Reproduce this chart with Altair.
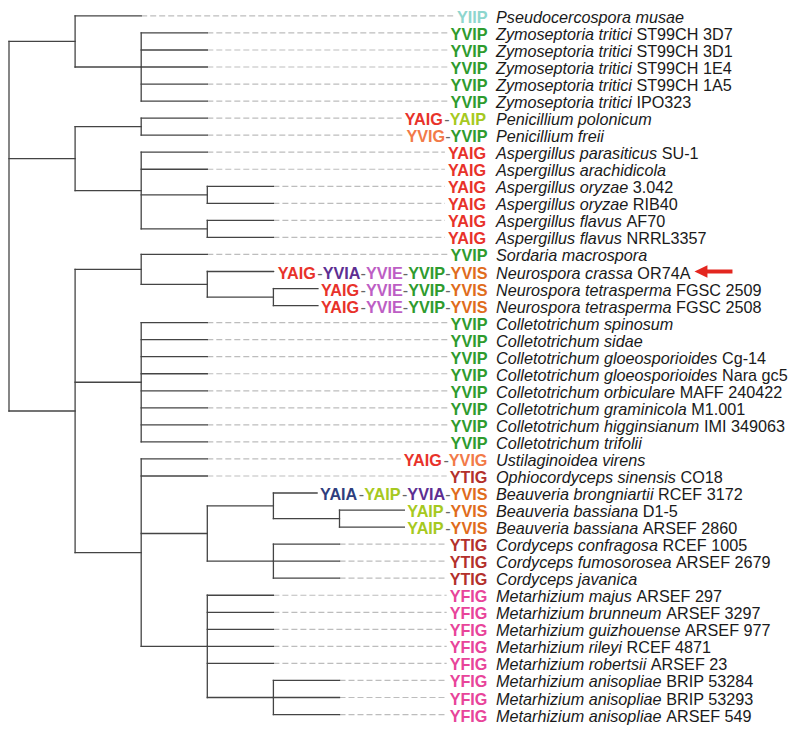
import altair as alt
import pandas as pd

# ---------------- data ----------------
# tree topology (leaf numbers = row order, top to bottom)
TREE = ("((0,(1,2,3,4,5)),((6,7),(8,9,(10,11),(12,13))),"
        "((14,(15,(16,17))),(18,19,20,21,22,23,24,25),"
        "(26,27,((28,(29,30)),(31,32,33)),(34,35,36,37,38,(39,40,41)))))")

SPECIES = [
    "Pseudocercospora musae", "Zymoseptoria tritici", "Zymoseptoria tritici",
    "Zymoseptoria tritici", "Zymoseptoria tritici", "Zymoseptoria tritici",
    "Penicillium polonicum", "Penicillium freii", "Aspergillus parasiticus",
    "Aspergillus arachidicola", "Aspergillus oryzae", "Aspergillus oryzae",
    "Aspergillus flavus", "Aspergillus flavus", "Sordaria macrospora",
    "Neurospora crassa", "Neurospora tetrasperma", "Neurospora tetrasperma",
    "Colletotrichum spinosum", "Colletotrichum sidae",
    "Colletotrichum gloeosporioides", "Colletotrichum gloeosporioides",
    "Colletotrichum orbiculare", "Colletotrichum graminicola",
    "Colletotrichum higginsianum", "Colletotrichum trifolii",
    "Ustilaginoidea virens", "Ophiocordyceps sinensis",
    "Beauveria brongniartii", "Beauveria bassiana", "Beauveria bassiana",
    "Cordyceps confragosa", "Cordyceps fumosorosea", "Cordyceps javanica",
    "Metarhizium majus", "Metarhizium brunneum", "Metarhizium guizhouense",
    "Metarhizium rileyi", "Metarhizium robertsii", "Metarhizium anisopliae",
    "Metarhizium anisopliae", "Metarhizium anisopliae",
]
STRAINS = [
    "", "ST99CH 3D7", "ST99CH 3D1", "ST99CH 1E4", "ST99CH 1A5", "IPO323",
    "", "", "SU-1", "", "3.042", "RIB40", "AF70", "NRRL3357", "",
    "OR74A", "FGSC 2509", "FGSC 2508",
    "", "", "Cg-14", "Nara gc5", "MAFF 240422", "M1.001", "IMI 349063", "",
    "", "CO18", "RCEF 3172", "D1-5", "ARSEF 2860",
    "RCEF 1005", "ARSEF 2679", "",
    "ARSEF 297", "ARSEF 3297", "ARSEF 977", "RCEF 4871", "ARSEF 23",
    "BRIP 53284", "BRIP 53293", "ARSEF 549",
]
MOTIFS = [
    "YIIP", "YVIP", "YVIP", "YVIP", "YVIP", "YVIP",
    "YAIG-YAIP", "YVIG-YVIP",
    "YAIG", "YAIG", "YAIG", "YAIG", "YAIG", "YAIG",
    "YVIP", "YAIG-YVIA-YVIE-YVIP-YVIS", "YAIG-YVIE-YVIP-YVIS", "YAIG-YVIE-YVIP-YVIS",
    "YVIP", "YVIP", "YVIP", "YVIP", "YVIP", "YVIP", "YVIP", "YVIP",
    "YAIG-YVIG", "YTIG", "YAIA-YAIP-YVIA-YVIS", "YAIP-YVIS", "YAIP-YVIS",
    "YTIG", "YTIG", "YTIG",
    "YFIG", "YFIG", "YFIG", "YFIG", "YFIG", "YFIG", "YFIG", "YFIG",
]
MOTIF_COLORS = {
    "YIIP": "#8ed6ce", "YVIP": "#2e9b2e", "YAIG": "#e8322a", "YAIP": "#a6c920",
    "YVIG": "#f27a48", "YVIA": "#5d2e92", "YVIE": "#bd5ec4", "YVIS": "#e06c1c",
    "YTIG": "#b3302b", "YAIA": "#2f3e7e", "YFIG": "#e8449a",
}
MARKED_LEAF = 15  # red arrow

# ---------------- layout settings ----------------
FONT = "Liberation Sans"
FS = 16.2
W, H = 781, 717
X0, PX = 9.0, 66.1        # image x of root, px per tree level
ROW0, ROWPX = 15.9, 17.04  # image y of first row, px per row
R_IMG, N_IMG = 487.5, 496.0  # motif right edge / name start (image px)
GAP = 3.0

REG = {c: w for c, w in zip("ABCDEFGHIJKLMNOPQRSTUVWXYZ",
       [667, 667, 722, 722, 667, 611, 778, 722, 278, 500, 667, 556, 833, 722,
        778, 667, 778, 722, 667, 611, 722, 667, 944, 667, 667, 611])}
REG.update({c: w for c, w in zip("abcdefghijklmnopqrstuvwxyz",
       [556, 556, 500, 556, 556, 278, 556, 556, 222, 222, 500, 222, 833, 556,
        556, 556, 556, 333, 500, 278, 556, 500, 722, 500, 500, 500])})
REG.update({d: 556 for d in "0123456789"})
REG.update({" ": 278, ".": 278, "-": 333})
BOLD = {"A": 722, "E": 667, "F": 611, "G": 778, "I": 278, "P": 667, "S": 667,
        "T": 611, "V": 667, "Y": 667, "-": 333}


def tw(s, table):
    return sum(table.get(c, 556) for c in s) * FS / 1000.0


def d_of(px_img):
    return (px_img - X0) / PX


def parse(s):
    pos = 0

    def node():
        nonlocal pos
        if s[pos] == "(":
            pos += 1
            kids = [node()]
            while s[pos] == ",":
                pos += 1
                kids.append(node())
            pos += 1
            return kids
        start = pos
        while pos < len(s) and s[pos] not in ",)":
            pos += 1
        return int(s[start:pos])
    return node()


tree = parse(TREE)
solid, dashed = [], []
leaf_parent = {}


def layout(n, depth):
    if isinstance(n, int):
        leaf_parent[n] = depth - 1
        return float(n)
    ys = []
    for c in n:
        cy = layout(c, depth + 1)
        ys.append(cy)
        if not isinstance(c, int):
            solid.append(dict(x=depth, x2=depth + 1, y=cy, y2=cy))
    solid.append(dict(x=depth, x2=depth, y=ys[0], y2=ys[-1]))
    return (ys[0] + ys[-1]) / 2


layout(tree, 0)

texts, names, strains = [], [], []
arrow_head, arrow_shaft = [], []
for i, motif in enumerate(MOTIFS):
    parts = motif.split("-")
    total = sum(tw(p, BOLD) for p in parts) + (len(parts) - 1) * tw("-", REG)
    start = R_IMG - total
    cur = start
    for k, p in enumerate(parts):
        texts.append(dict(x=d_of(cur), y=i, t=p, c=MOTIF_COLORS[p], w="bold"))
        cur += tw(p, BOLD)
        if k < len(parts) - 1:
            texts.append(dict(x=d_of(cur), y=i, t="-", c="#666666", w="normal"))
            cur += tw("-", REG)
    end_d = d_of(start - GAP)
    par = leaf_parent[i]
    tip = par + 1
    if tip < end_d:
        solid.append(dict(x=par, x2=tip, y=i, y2=i))
        dashed.append(dict(x=tip, x2=end_d, y=i, y2=i))
    else:
        solid.append(dict(x=par, x2=end_d, y=i, y2=i))
    names.append(dict(x=d_of(N_IMG), y=i, t=SPECIES[i]))
    sx = N_IMG + tw(SPECIES[i] + " ", REG)
    strains.append(dict(x=d_of(sx), y=i, t=STRAINS[i]))
    if i == MARKED_LEAF:
        tipx = sx + tw(STRAINS[i], REG) + 4
        arrow_head.append(dict(x=d_of(tipx + 6.5), y=i))
        arrow_shaft.append(dict(x=d_of(tipx + 11), x2=d_of(tipx + 38), y=i))

xs = alt.Scale(domain=[d_of(8), d_of(8 + W)])
ys = alt.Scale(domain=[(8 - ROW0) / ROWPX, (8 + H - ROW0) / ROWPX], reverse=True)
X = alt.X("x:Q", scale=xs, axis=None)
Y = alt.Y("y:Q", scale=ys, axis=None)

solid_l = alt.Chart(pd.DataFrame(solid)).mark_rule(
    color="#444444", strokeWidth=1.3, strokeCap="square"
).encode(x=X, x2="x2:Q", y=Y, y2="y2:Q")

dash_l = alt.Chart(pd.DataFrame(dashed)).mark_rule(
    color="#bdbdbd", strokeWidth=1.2, strokeDash=[6, 3]
).encode(x=X, x2="x2:Q", y=Y, y2="y2:Q")

tdf = pd.DataFrame(texts)
motif_l = alt.Chart(tdf[tdf.w == "bold"]).mark_text(
    align="left", baseline="middle", font=FONT, fontSize=FS, fontWeight="bold", dy=2
).encode(x=X, y=Y, text="t:N", color=alt.Color("c:N", scale=None))

hyph_l = alt.Chart(tdf[tdf.w == "normal"]).mark_text(
    align="left", baseline="middle", font=FONT, fontSize=FS, dy=2
).encode(x=X, y=Y, text="t:N", color=alt.Color("c:N", scale=None))

name_l = alt.Chart(pd.DataFrame(names)).mark_text(
    align="left", baseline="middle", font=FONT, fontSize=FS, fontStyle="italic",
    color="#1a1a1a", dy=2
).encode(x=X, y=Y, text="t:N")

strain_l = alt.Chart(pd.DataFrame(strains)).mark_text(
    align="left", baseline="middle", font=FONT, fontSize=FS, color="#1a1a1a", dy=2
).encode(x=X, y=Y, text="t:N")

shaft_l = alt.Chart(pd.DataFrame(arrow_shaft)).mark_rule(
    color="#e3261f", strokeWidth=4
).encode(x=X, x2="x2:Q", y=Y)

head_l = alt.Chart(pd.DataFrame(arrow_head)).mark_point(
    shape="M-1,0L1,-0.95L1,0.95Z", size=169, filled=True, color="#e3261f", opacity=1
).encode(x=X, y=Y)

chart = alt.layer(
    dash_l, solid_l, motif_l, hyph_l, name_l, strain_l, shaft_l, head_l
).properties(
    width=W, height=H, padding=0,
    autosize=alt.AutoSizeParams(type="none"),
    background="white",
).configure_view(stroke=None)

chart.save("out.html", embed_options={"renderer": "svg", "actions": False})
